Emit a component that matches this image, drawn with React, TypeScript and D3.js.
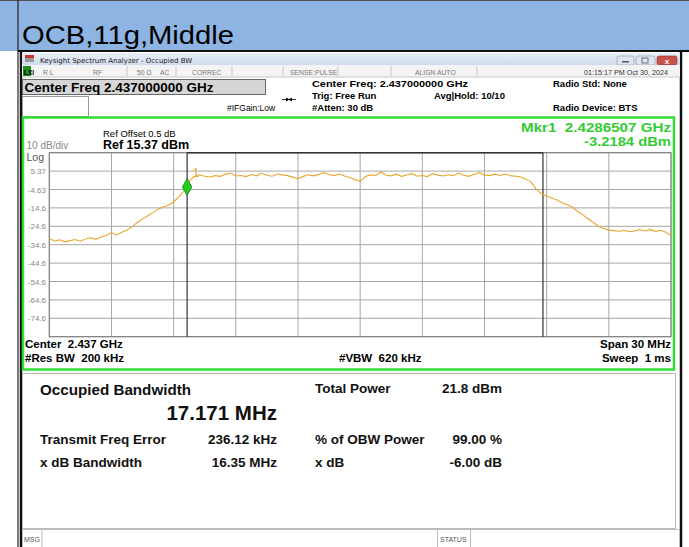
import React from "react";
import * as d3 from "d3";

// trace values in dBm, sweep points evenly spread over the 30 MHz span
const traceDbm = [
  -31.2, -32.6, -32.0, -33.1, -32.4, -31.8, -32.7, -31.5, -30.9, -31.7,
  -30.4, -29.6, -28.0, -29.3, -27.9, -26.6, -24.8, -22.6, -20.6, -18.9,
  -17.2, -15.3, -14.1, -13.2, -11.4, -8.6, -5.3, -0.2,
  2.4, 3.4, 2.6, 2.2, 2.9, 2.5, 3.6, 4.3, 2.7, 3.0,
  2.4, 3.5, 2.8, 4.2, 3.1, 2.6, 3.8, 3.3, 2.9, 2.1,
  1.2, 2.5, 3.4, 2.8, 3.6, 4.6, 3.5, 2.9, 3.8, 2.7,
  1.9, 0.8, -0.2, 2.4, 3.3, 3.0, 4.9, 3.1, 2.8, 3.7,
  2.5, 3.2, 4.1, 2.6, 3.0, 2.4, 4.0, 3.2, 2.7, 3.4,
  2.9, 4.3, 3.1, 2.5, 3.6, 4.6, 3.2, 2.9, 3.7, 3.0,
  3.8, 2.9, 2.6,
  2.2, 1.0, -0.6, -4.5, -7.0, -8.3, -9.2, -10.4, -11.8, -12.9,
  -14.3, -16.6, -18.4, -20.5, -22.6, -24.6, -25.8, -26.7, -27.0, -27.3,
  -26.9, -27.6, -27.1, -26.4, -27.2, -26.3, -27.5, -26.8, -27.9, -29.6,
];

const spanMHz = [-15, 15];
const refLevelDbm = 15.37;
const dbPerDiv = 10;
const yTickLabels = ["5.37", "-4.63", "-14.6", "-24.6", "-34.6", "-44.6", "-54.6", "-64.6", "-74.6"];
const obwEdgesMHz = [-8.3493, 8.8217];
const markerMHz = -8.3493;
const markerDbm = -3.2184;

const leftLabels = ["Transmit Freq Error", "x dB Bandwidth"];
const leftValues = ["236.12 kHz", "16.35 MHz"];
const rightLabels = ["Total Power", "% of OBW Power", "x dB"];
const rightValues = ["21.8 dBm", "99.00 %", "-6.00 dB"];

const W = 689;
const H = 547;
const FONT = "'Liberation Sans', Arial, sans-serif";
const NARROW = "'Liberation Sans Narrow', 'Liberation Sans', Arial, sans-serif";
const SP2 = "\u00a0\u00a0";

export default function App() {
  const plot = { left: 49.3, right: 671, top: 152.7, bottom: 336.7 };

  const x = d3.scaleLinear().domain(spanMHz).range([plot.left, plot.right]);
  const y = d3
    .scaleLinear()
    .domain([refLevelDbm - dbPerDiv * 10, refLevelDbm])
    .range([plot.bottom, plot.top]);
  const xi = d3
    .scaleLinear()
    .domain([0, traceDbm.length - 1])
    .range(spanMHz);

  const line = d3
    .line<number>()
    .x((d, i) => x(xi(i)))
    .y((d) => y(d));

  const xGrid = d3.range(spanMHz[0], spanMHz[1] + 0.1, 3);
  const yGrid = d3.range(0, 11).map((k) => refLevelDbm - k * dbPerDiv);

  const mx = x(markerMHz);
  const my = y(markerDbm);
  const rowY = [444, 467];
  const rightY = [393, rowY[0], rowY[1]];

  return (
    <svg
      width={W}
      height={H}
      style={{ position: "absolute", left: 0, top: 0, background: "#fff" }}
      fontFamily={FONT}
    >
      <defs>
        <linearGradient id="tb" x1="0" y1="0" x2="0" y2="1">
          <stop offset="0" stopColor="#e9eff7" />
          <stop offset="1" stopColor="#cfdcec" />
        </linearGradient>
      </defs>

      {/* slide header */}
      <rect x={0} y={0} width={W} height={51} fill="#8db4e2" />
      <line x1={0} y1={0.5} x2={W} y2={0.5} stroke="#555" />
      <line x1={18} y1={0} x2={18} y2={H} stroke="#222" strokeWidth={1.2} />
      <text x={22} y={44} fontSize={25} textLength={212} lengthAdjust="spacingAndGlyphs" fill="#000">
        OCB,11g,Middle
      </text>
      <line x1={18} y1={51} x2={W} y2={51} stroke="#111" strokeWidth={2} />

      {/* analyzer window */}
      <rect x={20} y={52} width={662} height={H - 52} fill="#fff" />
      <line x1={21} y1={52} x2={21} y2={H} stroke="#111" strokeWidth={2.5} />
      <line x1={681} y1={52} x2={681} y2={H} stroke="#111" strokeWidth={2.5} />

      {/* title bar */}
      <rect x={22} y={53} width={658} height={12} fill="url(#tb)" />
      <rect x={25} y={55} width={9} height={3} fill="#c33" />
      <rect x={25} y={58} width={9} height={4} fill="#999" />
      <text x={40} y={62.5} fontSize={7} fill="#222" fontFamily="'DejaVu Sans', sans-serif">
        Keysight Spectrum Analyzer - Occupied BW
      </text>
      <rect x={617} y={56} width={17} height={9} rx={2} fill="#dfe6ef" stroke="#8a9ab0" strokeWidth={0.6} />
      <rect x={622} y={61} width={7} height={1.5} fill="#556" />
      <rect x={636} y={56} width={19} height={9} rx={2} fill="#dfe6ef" stroke="#8a9ab0" strokeWidth={0.6} />
      <rect x={642} y={58} width={6} height={5} fill="none" stroke="#556" strokeWidth={0.8} />
      <rect x={657} y={56} width={20} height={9} rx={2} fill="#c9524a" stroke="#8a3530" strokeWidth={0.6} />
      <text x={667} y={63.5} fontSize={8} textAnchor="middle" fill="#fff" fontWeight="bold">x</text>

      {/* settings status row */}
      <rect x={22} y={65} width={658} height={12} fill="#f4f4f4" />
      <line x1={22} y1={77} x2={680} y2={77} stroke="#c8c8c8" />
      <rect x={23} y={66} width={8} height={10} fill="#1f8f1f" />
      <text x={24} y={74.5} fontSize={6.5} fontWeight="bold" fill="#000" fontFamily={NARROW}>LXI</text>
      <g fontSize={6.8} fill="#777" fontFamily={NARROW}>
        <text x={43} y={74.5}>R L</text>
        <text x={93} y={74.5}>RF</text>
        <text x={137} y={74.5}>50 Ω</text>
        <text x={160} y={74.5}>AC</text>
        <text x={192} y={74.5}>CORREC</text>
        <text x={290} y={74.5}>SENSE:PULSE</text>
        <text x={415} y={74.5}>ALIGN AUTO</text>
        <text x={668} y={74.5} textAnchor="end" fill="#333" fontSize={7.2}>01:15:17 PM Oct 30, 2024</text>
      </g>
      {[127, 176, 232, 283, 338, 391, 477].map((d) => (
        <line key={d} x1={d} y1={66} x2={d} y2={76} stroke="#c8c8c8" />
      ))}

      {/* center freq box */}
      <rect x={22.5} y={79.5} width={243} height={15} fill="#d6d6d6" stroke="#666" />
      <text x={24.5} y={91.7} fontSize={13.5} fontWeight="bold" fill="#000">
        Center Freq 2.437000000 GHz
      </text>
      <rect x={22.5} y={96.5} width={66} height={20} fill="#fff" stroke="#999" />
      <text x={227} y={111} fontSize={8.5} fill="#000" fontFamily={NARROW}>#IFGain:Low</text>
      <line x1={282} y1={99.5} x2={296} y2={99.5} stroke="#000" strokeWidth={0.8} />
      <path d="M286,97.5 L289.5,99.5 L286,101.5 Z M292,97.5 L288.5,99.5 L292,101.5 Z" fill="#000" />
      <g fontSize={9.5} fontWeight="bold" fill="#000">
        <text x={312} y={87} textLength={156} lengthAdjust="spacingAndGlyphs">Center Freq: 2.437000000 GHz</text>
        <text x={312} y={98.5}>Trig: Free Run</text>
        <text x={312} y={111}>#Atten: 30 dB</text>
        <text x={434} y={98.5}>Avg|Hold: 10/10</text>
        <text x={553} y={87}>Radio Std: None</text>
        <text x={553} y={111}>Radio Device: BTS</text>
      </g>

      {/* graph window */}
      <rect x={23} y={117.5} width={651} height={252} fill="#fff" stroke="#33dd33" strokeWidth={2.5} />
      <text x={103} y={136.5} fontSize={9.5} fill="#000">Ref Offset 0.5 dB</text>
      <text x={103} y={149} fontSize={12.5} fontWeight="bold" fill="#000">Ref 15.37 dBm</text>
      <text x={26.5} y={149} fontSize={10} fill="#8a8a8a">10 dB/div</text>
      <text x={26.5} y={160.5} fontSize={10.5} fill="#555">Log</text>
      <g fontSize={13} fontWeight="bold" fill="#33cc33" textAnchor="end">
        <text x={671} y={131.5} textLength={150} lengthAdjust="spacingAndGlyphs">{"Mkr1" + SP2 + "2.4286507 GHz"}</text>
        <text x={671} y={146} textLength={87} lengthAdjust="spacingAndGlyphs">-3.2184 dBm</text>
      </g>

      {/* grid */}
      <rect x={plot.left} y={plot.top} width={plot.right - plot.left} height={plot.bottom - plot.top} fill="#fff" />
      {xGrid.map((d) => (
        <line key={"x" + d} x1={x(d)} y1={plot.top} x2={x(d)} y2={plot.bottom} stroke="#a6a6a6" />
      ))}
      {yGrid.map((d) => (
        <line key={"y" + d} x1={plot.left} y1={y(d)} x2={plot.right} y2={y(d)} stroke="#a6a6a6" />
      ))}
      <rect x={plot.left} y={plot.top} width={plot.right - plot.left} height={plot.bottom - plot.top} fill="none" stroke="#7a7a7a" />
      <g fontSize={8} fill="#8a8a8a" textAnchor="end" fontFamily={NARROW}>
        {yTickLabels.map((t, k) => (
          <text key={t} x={46} y={y(refLevelDbm - (k + 1) * dbPerDiv) + 3}>
            {t}
          </text>
        ))}
      </g>

      {/* occupied bandwidth edges */}
      {obwEdgesMHz.map((d) => (
        <line key={"o" + d} x1={x(d)} y1={plot.top} x2={x(d)} y2={plot.bottom} stroke="#333" strokeWidth={1.2} />
      ))}
      <line x1={x(obwEdgesMHz[0])} y1={plot.top} x2={x(obwEdgesMHz[1])} y2={plot.top} stroke="#333" strokeWidth={1.5} />

      {/* trace */}
      <path d={line(traceDbm) ?? ""} fill="none" stroke="#e9a62e" strokeWidth={1.1} />

      {/* marker */}
      <path
        d={`M${mx},${my - 8.5} L${mx + 4.7},${my} L${mx},${my + 8.5} L${mx - 4.7},${my} Z`}
        fill="#22cc22"
        stroke="#187818"
        strokeWidth={0.8}
      />
      <text x={mx + 5.5} y={my - 10} fontSize={12} fill="#e9a62e">1</text>

      {/* below plot */}
      <g fontSize={11.5} fontWeight="bold" fill="#000">
        <text x={25} y={348}>{"Center" + SP2 + "2.437 GHz"}</text>
        <text x={25} y={362}>{"#Res BW" + SP2 + "200 kHz"}</text>
        <text x={339} y={362}>{"#VBW" + SP2 + "620 kHz"}</text>
        <text x={671} y={348} textAnchor="end">Span 30 MHz</text>
        <text x={671} y={362} textAnchor="end">{"Sweep" + SP2 + "1 ms"}</text>
      </g>

      {/* result panel */}
      <rect x={22.5} y={373.5} width={653} height={155} fill="#fff" stroke="#bbb" />
      <text x={40} y={395} fontSize={15.2} fontWeight="bold" fill="#111">Occupied Bandwidth</text>
      <text x={277} y={419.5} fontSize={20.5} fontWeight="bold" fill="#111" textAnchor="end">17.171 MHz</text>
      <g fontSize={13.5} fontWeight="bold" fill="#111">
        {leftLabels.map((t, k) => (
          <text key={t} x={40} y={rowY[k]}>{t}</text>
        ))}
        {leftValues.map((t, k) => (
          <text key={t} x={277} y={rowY[k]} textAnchor="end">{t}</text>
        ))}
        {rightLabels.map((t, k) => (
          <text key={t} x={315} y={rightY[k]}>{t}</text>
        ))}
        {rightValues.map((t, k) => (
          <text key={t} x={502} y={rightY[k]} textAnchor="end">{t}</text>
        ))}
      </g>

      {/* bottom status bar */}
      <rect x={22.5} y={529.5} width={657} height={18} fill="#fff" stroke="#bbb" />
      <line x1={42} y1={530} x2={42} y2={H} stroke="#bbb" />
      <line x1={437.5} y1={530} x2={437.5} y2={H} stroke="#bbb" />
      <line x1={470.5} y1={530} x2={470.5} y2={H} stroke="#bbb" />
      <g fontSize={7} fill="#555" fontFamily={NARROW}>
        <text x={24} y={541.5}>MSG</text>
        <text x={440} y={541.5}>STATUS</text>
      </g>
    </svg>
  );
}
